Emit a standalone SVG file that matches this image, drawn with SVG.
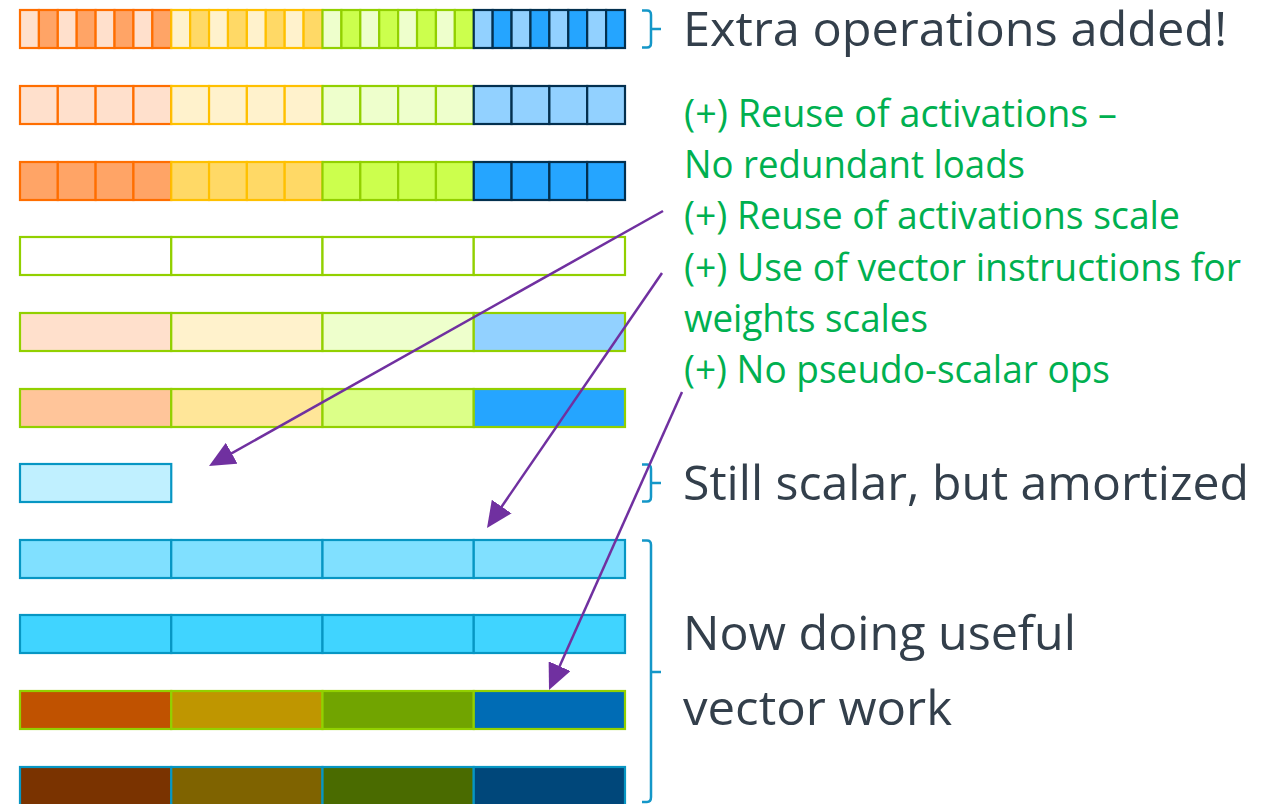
<svg xmlns="http://www.w3.org/2000/svg" width="1276" height="804" viewBox="0 0 1276 804">
<defs>
<style>
rect{stroke-width:2.2}
.so{stroke:#FF6E00}.sy{stroke:#FFC000}.sg{stroke:#92D000}.sb{stroke:#03304F}.st{stroke:#0796C3}
.lo{fill:#FFE0CC}.do{fill:#FFA466}.ly{fill:#FFF2CC}.dy{fill:#FFD966}.lg{fill:#EEFFCC}.dg{fill:#CCFF4D}.lb{fill:#92D1FF}.db{fill:#25A5FF}
.hd{font-family:"Open Sans","Noto Sans",sans-serif;font-size:48px;fill:#333F4B}
.gr{font-family:"Open Sans","Noto Sans",sans-serif;font-size:38px;fill:#00B050}
.br{fill:none;stroke:#1497C8;stroke-width:2.5}
.ar{fill:none;stroke:#7030A0;stroke-width:2.5}
</style>
<marker id="ah" markerUnits="userSpaceOnUse" markerWidth="26" markerHeight="24" refX="14" refY="12" orient="auto">
<path d="M0,0 L26,12 L0,24 z" fill="#7030A0"/>
</marker>
</defs>
<rect width="1276" height="804" fill="#FFFFFF" style="stroke:none"/>

<g id="row1">
<rect class="so lo" x="20" y="10" width="18.91" height="38"/>
<rect class="so do" x="38.91" y="10" width="18.91" height="38"/>
<rect class="so lo" x="57.81" y="10" width="18.91" height="38"/>
<rect class="so do" x="76.72" y="10" width="18.91" height="38"/>
<rect class="so lo" x="95.63" y="10" width="18.91" height="38"/>
<rect class="so do" x="114.53" y="10" width="18.91" height="38"/>
<rect class="so lo" x="133.44" y="10" width="18.91" height="38"/>
<rect class="so do" x="152.34" y="10" width="18.91" height="38"/>
<rect class="sy ly" x="171.25" y="10" width="18.91" height="38"/>
<rect class="sy dy" x="190.16" y="10" width="18.91" height="38"/>
<rect class="sy ly" x="209.06" y="10" width="18.91" height="38"/>
<rect class="sy dy" x="227.97" y="10" width="18.91" height="38"/>
<rect class="sy ly" x="246.88" y="10" width="18.91" height="38"/>
<rect class="sy dy" x="265.78" y="10" width="18.91" height="38"/>
<rect class="sy ly" x="284.69" y="10" width="18.91" height="38"/>
<rect class="sy dy" x="303.59" y="10" width="18.91" height="38"/>
<rect class="sg lg" x="322.5" y="10" width="18.91" height="38"/>
<rect class="sg dg" x="341.41" y="10" width="18.91" height="38"/>
<rect class="sg lg" x="360.31" y="10" width="18.91" height="38"/>
<rect class="sg dg" x="379.22" y="10" width="18.91" height="38"/>
<rect class="sg lg" x="398.13" y="10" width="18.91" height="38"/>
<rect class="sg dg" x="417.03" y="10" width="18.91" height="38"/>
<rect class="sg lg" x="435.94" y="10" width="18.91" height="38"/>
<rect class="sg dg" x="454.84" y="10" width="18.91" height="38"/>
<rect class="sb lb" x="473.75" y="10" width="18.91" height="38"/>
<rect class="sb db" x="492.66" y="10" width="18.91" height="38"/>
<rect class="sb lb" x="511.56" y="10" width="18.91" height="38"/>
<rect class="sb db" x="530.47" y="10" width="18.91" height="38"/>
<rect class="sb lb" x="549.38" y="10" width="18.91" height="38"/>
<rect class="sb db" x="568.28" y="10" width="18.91" height="38"/>
<rect class="sb lb" x="587.19" y="10" width="18.91" height="38"/>
<rect class="sb db" x="606.09" y="10" width="18.91" height="38"/>
</g>

<g id="row2">
<rect class="so lo" x="20" y="86" width="37.81" height="38"/>
<rect class="so lo" x="57.81" y="86" width="37.81" height="38"/>
<rect class="so lo" x="95.63" y="86" width="37.81" height="38"/>
<rect class="so lo" x="133.44" y="86" width="37.81" height="38"/>
<rect class="sy ly" x="171.25" y="86" width="37.81" height="38"/>
<rect class="sy ly" x="209.06" y="86" width="37.81" height="38"/>
<rect class="sy ly" x="246.88" y="86" width="37.81" height="38"/>
<rect class="sy ly" x="284.69" y="86" width="37.81" height="38"/>
<rect class="sg lg" x="322.5" y="86" width="37.81" height="38"/>
<rect class="sg lg" x="360.31" y="86" width="37.81" height="38"/>
<rect class="sg lg" x="398.13" y="86" width="37.81" height="38"/>
<rect class="sg lg" x="435.94" y="86" width="37.81" height="38"/>
<rect class="sb lb" x="473.75" y="86" width="37.81" height="38"/>
<rect class="sb lb" x="511.56" y="86" width="37.81" height="38"/>
<rect class="sb lb" x="549.38" y="86" width="37.81" height="38"/>
<rect class="sb lb" x="587.19" y="86" width="37.81" height="38"/>
</g>

<g id="row3">
<rect class="so do" x="20" y="162" width="37.81" height="38"/>
<rect class="so do" x="57.81" y="162" width="37.81" height="38"/>
<rect class="so do" x="95.63" y="162" width="37.81" height="38"/>
<rect class="so do" x="133.44" y="162" width="37.81" height="38"/>
<rect class="sy dy" x="171.25" y="162" width="37.81" height="38"/>
<rect class="sy dy" x="209.06" y="162" width="37.81" height="38"/>
<rect class="sy dy" x="246.88" y="162" width="37.81" height="38"/>
<rect class="sy dy" x="284.69" y="162" width="37.81" height="38"/>
<rect class="sg dg" x="322.5" y="162" width="37.81" height="38"/>
<rect class="sg dg" x="360.31" y="162" width="37.81" height="38"/>
<rect class="sg dg" x="398.13" y="162" width="37.81" height="38"/>
<rect class="sg dg" x="435.94" y="162" width="37.81" height="38"/>
<rect class="sb db" x="473.75" y="162" width="37.81" height="38"/>
<rect class="sb db" x="511.56" y="162" width="37.81" height="38"/>
<rect class="sb db" x="549.38" y="162" width="37.81" height="38"/>
<rect class="sb db" x="587.19" y="162" width="37.81" height="38"/>
</g>

<g id="row4">
<rect class="sg" fill="#FFFFFF" x="20" y="237" width="151.25" height="38"/>
<rect class="sg" fill="#FFFFFF" x="171.25" y="237" width="151.25" height="38"/>
<rect class="sg" fill="#FFFFFF" x="322.5" y="237" width="151.25" height="38"/>
<rect class="sg" fill="#FFFFFF" x="473.75" y="237" width="151.25" height="38"/>
</g>

<g id="row5">
<rect class="sg lo" x="20" y="313" width="151.25" height="38"/>
<rect class="sg ly" x="171.25" y="313" width="151.25" height="38"/>
<rect class="sg lg" x="322.5" y="313" width="151.25" height="38"/>
<rect class="sg lb" x="473.75" y="313" width="151.25" height="38"/>
</g>

<g id="row6">
<rect class="sg" fill="#FFC59A" x="20" y="389" width="151.25" height="38"/>
<rect class="sg" fill="#FFE699" x="171.25" y="389" width="151.25" height="38"/>
<rect class="sg" fill="#DCFF88" x="322.5" y="389" width="151.25" height="38"/>
<rect class="sg db" x="473.75" y="389" width="151.25" height="38"/>
</g>

<g id="row7">
<rect class="st" fill="#C0F0FF" x="20" y="464" width="151.25" height="38"/>
</g>

<g id="row8">
<rect class="st" fill="#80E0FF" x="20" y="540" width="151.25" height="38"/>
<rect class="st" fill="#80E0FF" x="171.25" y="540" width="151.25" height="38"/>
<rect class="st" fill="#80E0FF" x="322.5" y="540" width="151.25" height="38"/>
<rect class="st" fill="#80E0FF" x="473.75" y="540" width="151.25" height="38"/>
</g>

<g id="row9">
<rect class="st" fill="#40D4FF" x="20" y="615" width="151.25" height="38"/>
<rect class="st" fill="#40D4FF" x="171.25" y="615" width="151.25" height="38"/>
<rect class="st" fill="#40D4FF" x="322.5" y="615" width="151.25" height="38"/>
<rect class="st" fill="#40D4FF" x="473.75" y="615" width="151.25" height="38"/>
</g>

<g id="row10">
<rect class="sg" fill="#C05200" x="20" y="691" width="151.25" height="38"/>
<rect class="sg" fill="#BF9600" x="171.25" y="691" width="151.25" height="38"/>
<rect class="sg" fill="#71A400" x="322.5" y="691" width="151.25" height="38"/>
<rect class="sg" fill="#006CB5" x="473.75" y="691" width="151.25" height="38"/>
</g>

<g id="row11">
<rect class="st" fill="#7A3300" x="20" y="767" width="151.25" height="40"/>
<rect class="st" fill="#7F6300" x="171.25" y="767" width="151.25" height="40"/>
<rect class="st" fill="#4A6B00" x="322.5" y="767" width="151.25" height="40"/>
<rect class="st" fill="#00477A" x="473.75" y="767" width="151.25" height="40"/>
</g>

<g id="brace1">
<path class="br" d="M642,10.5 H647 Q651,10.5 651,15 V29 H661 M651,29 V43 Q651,47.5 647,47.5 H642"/>
<text class="hd" x="683" y="46" textLength="544" lengthAdjust="spacingAndGlyphs">Extra operations added!</text>
</g>

<g id="notes">
<text class="gr" x="684" y="127" textLength="433" lengthAdjust="spacingAndGlyphs">(+) Reuse of activations –</text>
<text class="gr" x="684" y="178" textLength="341" lengthAdjust="spacingAndGlyphs">No redundant loads</text>
<text class="gr" x="684" y="229" textLength="496" lengthAdjust="spacingAndGlyphs">(+) Reuse of activations scale</text>
<text class="gr" x="684" y="281" textLength="557" lengthAdjust="spacingAndGlyphs">(+) Use of vector instructions for</text>
<text class="gr" x="684" y="332" textLength="244" lengthAdjust="spacingAndGlyphs">weights scales</text>
<text class="gr" x="684" y="383" textLength="426" lengthAdjust="spacingAndGlyphs">(+) No pseudo-scalar ops</text>
</g>

<g id="brace2">
<path class="br" d="M642,464.5 H647 Q651,464.5 651,469 V483 H661 M651,483 V497 Q651,501.5 647,501.5 H642"/>
<text class="hd" x="683" y="500" textLength="566" lengthAdjust="spacingAndGlyphs">Still scalar, but amortized</text>
</g>

<g id="brace3">
<path class="br" d="M642,540.5 H647 Q651,540.5 651,545 V672 H661 M651,672 V797 Q651,802 647,802 H642"/>
<text class="hd" x="683" y="650" textLength="393" lengthAdjust="spacingAndGlyphs">Now doing useful</text>
<text class="hd" x="683" y="725" textLength="269" lengthAdjust="spacingAndGlyphs">vector work</text>
</g>

<g id="connectors">
<path class="ar" marker-end="url(#ah)" d="M663,211 L219.5,460.1"/>
<path class="ar" marker-end="url(#ah)" d="M662,273 L493.8,518.1"/>
<path class="ar" marker-end="url(#ah)" d="M682,392 L553.9,679"/>
</g>
</svg>
